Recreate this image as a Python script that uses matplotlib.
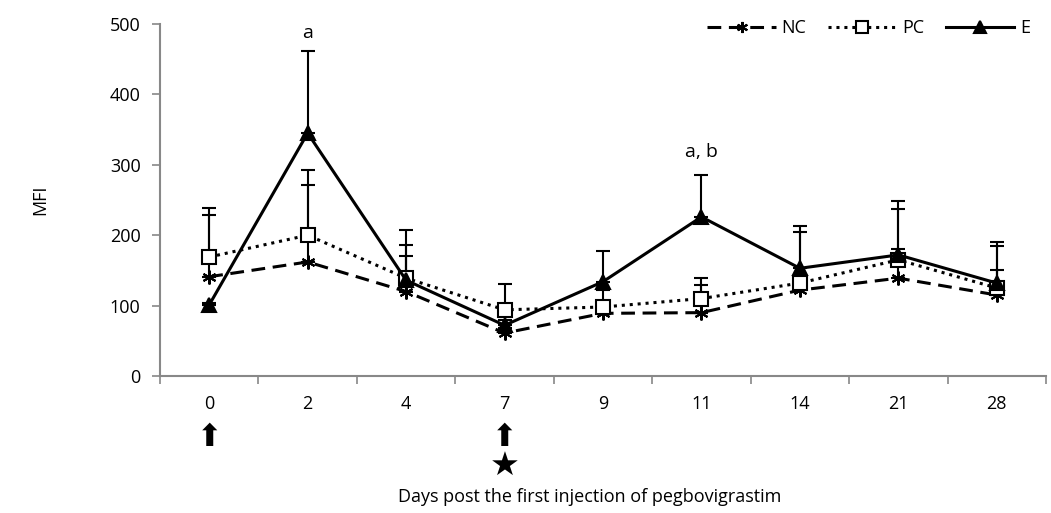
import numpy as np
import matplotlib
matplotlib.use("Agg")
import matplotlib.pyplot as plt
from matplotlib.transforms import blended_transform_factory

days = ["0", "2", "4", "7", "9", "11", "14", "21", "28"]

nc_mean = [141, 162, 120, 61, 89, 90, 122, 139, 115]
nc_top = [229, 271, 171, 68, 100, 129, 205, 237, 151]

pc_mean = [169, 200, 139, 94, 98, 110, 132, 165, 125]
pc_top = [238, 293, 186, 130, 122, 139, 145, 248, 184]

e_mean = [101, 345, 136, 72, 134, 226, 153, 172, 132]
e_top = [104, 461, 208, 80, 177, 285, 213, 180, 191]

plt.rcParams.update({
    "font.family": ["Open Sans", "DejaVu Sans"],
    "font.size": 13,
})

fig = plt.figure(figsize=(10.51, 5.13), dpi=100)
ax = fig.add_axes([160 / 1051, 1 - 376 / 513, 886 / 1051, 352 / 513])

x = np.arange(len(days))
series = [
    ("NC", nc_mean, nc_top, dict(ls=(0, (4.5, 2.5)), marker=(6, 2, 0), ms=10, mfc="black")),
    ("PC", pc_mean, pc_top, dict(ls=(0, (1, 1.6)), marker="s", ms=10, mfc="white")),
    ("E", e_mean, e_top, dict(ls="-", marker="^", ms=10, mfc="black")),
]
for name, mean, top, style in series:
    mean = np.array(mean)
    err = np.array(top) - mean
    ax.errorbar(x, mean, yerr=[np.zeros_like(err), err], fmt="none",
                ecolor="black", elinewidth=1.5, capsize=5, capthick=1.5, zorder=2)
    ax.plot(x, mean, color="black", lw=2.2, mec="black", mew=1.5,
            label=name, zorder=3, **style)

ax.set_xlim(-0.5, len(days) - 0.5)
ax.set_ylim(0, 500)
ax.set_yticks(np.arange(0, 501, 100))
ax.set_xticks(x)
ax.set_xticklabels(days)
ax.set_xticks(np.arange(-0.5, len(days), 1), minor=True)
ax.tick_params(axis="x", which="major", length=0, pad=14)
ax.tick_params(axis="x", which="minor", length=6, color="#888888", width=1.2)
ax.tick_params(axis="y", length=6, color="#888888", width=1.2, pad=8)
for s in ["top", "right"]:
    ax.spines[s].set_visible(False)
for s in ["left", "bottom"]:
    ax.spines[s].set_color("#888888")
    ax.spines[s].set_linewidth(1.5)

ax.text(1, 487, "a", ha="center", va="center", fontsize=14)
ax.text(5, 318, "a, b", ha="center", va="center", fontsize=14)

tr = blended_transform_factory(ax.transData, ax.transData)
for d in [0, 3]:
    ax.text(d, -87, "\u2b06", ha="center", va="center", fontsize=22,
            family="DejaVu Sans", transform=tr, clip_on=False)
ax.text(3, -128, "\u2605", ha="center", va="center", fontsize=24,
        family="DejaVu Sans", transform=tr, clip_on=False)

fig.text(590 / 1051, 1 - 497 / 513, "Days post the first injection of pegbovigrastim",
         ha="center", va="center", fontsize=13)
fig.text(40 / 1051, 1 - 200 / 513, "MFI", rotation=90, ha="center", va="center",
         fontsize=13)

ax.legend(loc="upper right", bbox_to_anchor=(1.0, 1.06), ncol=3, frameon=False,
          handlelength=3.8, columnspacing=1.2, handletextpad=0.3, fontsize=13,
          markerscale=0.8)

fig.savefig("out.png", dpi=100)
